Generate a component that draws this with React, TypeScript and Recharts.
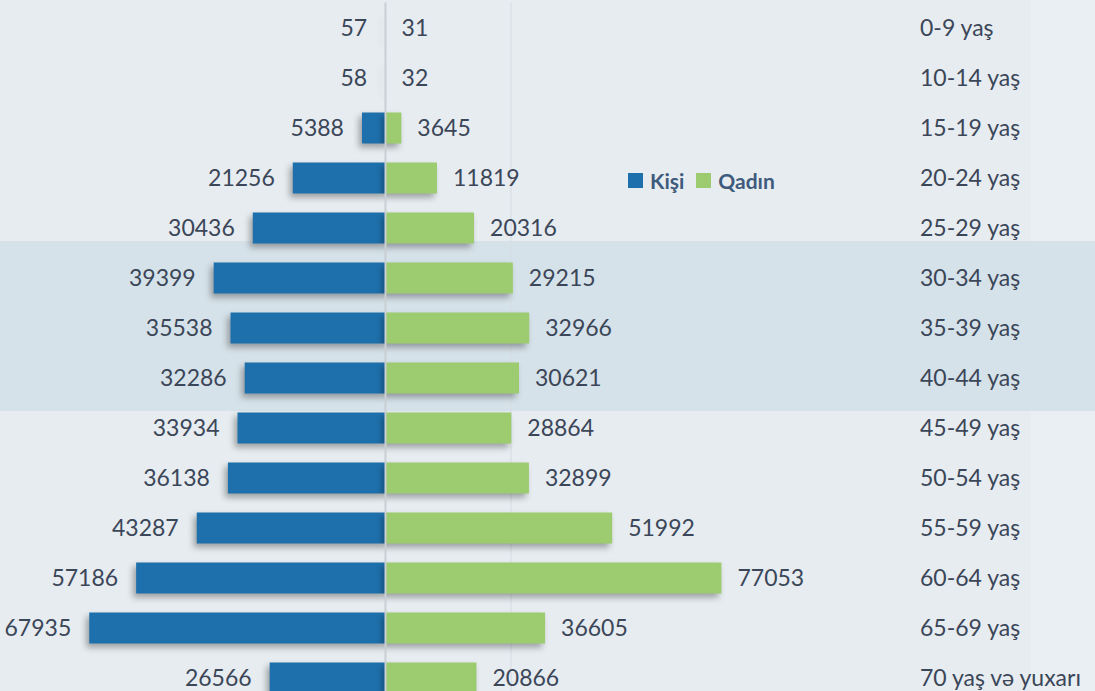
import { Bar, BarChart, CartesianGrid, LabelList, Legend, ReferenceLine, XAxis, YAxis } from 'recharts';

const ageGroups = [
  '0-9 yaş',
  '10-14 yaş',
  '15-19 yaş',
  '20-24 yaş',
  '25-29 yaş',
  '30-34 yaş',
  '35-39 yaş',
  '40-44 yaş',
  '45-49 yaş',
  '50-54 yaş',
  '55-59 yaş',
  '60-64 yaş',
  '65-69 yaş',
  '70 yaş və yuxarı',
];
const male = [57, 58, 5388, 21256, 30436, 39399, 35538, 32286, 33934, 36138, 43287, 57186, 67935, 26566];
const female = [31, 32, 3645, 11819, 20316, 29215, 32966, 30621, 28864, 32899, 51992, 77053, 36605, 20866];
const xDomain = [-88400, 120750];
const gridTicks = [28800];

const chartData = ageGroups.map((age, i) => ({
  age,
  kisi: -male[i],
  qadin: female[i],
}));

const BLUE = '#1e70ac';
const GREEN = '#9dcb6f';
const TEXT = '#3b4658';
const FONT = 'Lato, sans-serif';

// bars with a soft shadow down-left, like the office original
const ShadowBar = (props: any) => {
  let { x, y, width, height, fill } = props;
  if (width < 0) {
    x += width;
    width = -width;
  }
  return (
    <rect
      x={x}
      y={y}
      width={width}
      height={height}
      fill={fill}
      style={{ filter: 'drop-shadow(-3px 4px 3px rgba(0,0,0,0.32))' }}
    />
  );
};

const LegendBox = ({ payload }: any) => (
  <div style={{ display: 'flex', alignItems: 'center', fontFamily: FONT, fontWeight: 700, fontSize: 21, color: '#3e5a7c' }}>
    {(payload || []).map((p: any) => (
      <span key={p.value} style={{ display: 'flex', alignItems: 'center', marginRight: 12 }}>
        <span style={{ width: 15, height: 15, background: p.color, display: 'inline-block', marginRight: 7 }} />
        {p.value}
      </span>
    ))}
  </div>
);

// only the inner gridline, not the plot edges
const gridX = (p: any) => {
  const o = p?.offset;
  if (!o || typeof o.left !== 'number') return [];
  return gridTicks.map((v) => o.left + ((v - xDomain[0]) / (xDomain[1] - xDomain[0])) * o.width);
};

export default function App() {
  return (
    <div style={{ position: 'absolute', left: 0, top: 0, width: 1095, height: 691, overflow: 'hidden', background: '#e6ecf0' }}>
      <div style={{ position: 'absolute', left: 1031, top: 0, width: 64, height: 691, background: '#e9eff2' }} />
      <div style={{ position: 'absolute', left: 0, top: 241, width: 1095, height: 170, background: '#d6e2e9' }} />
      <div style={{ position: 'absolute', left: 0, top: 0 }}>
        <BarChart
          width={1095}
          height={702.5}
          data={chartData}
          layout='vertical'
          stackOffset='sign'
          margin={{ top: 2.5, right: 0, bottom: 0, left: 0 }}
        >
          <CartesianGrid horizontal={false} stroke='#d6dde2' strokeWidth={1} verticalCoordinatesGenerator={gridX} />
          <XAxis type='number' hide domain={xDomain} ticks={gridTicks} allowDataOverflow />
          <YAxis
            type='category'
            dataKey='age'
            orientation='right'
            width={183}
            axisLine={false}
            tickLine={false}
            tickMargin={2}
            tick={{ fontSize: 23, fill: TEXT, fontFamily: FONT }}
            interval={0}
          />
          <Legend
            content={<LegendBox />}
            layout='horizontal'
            verticalAlign='middle'
            align='center'
            wrapperStyle={{ position: 'absolute', left: 628, top: 168, width: 'auto' }}
          />
          <Bar dataKey='kisi' name='Kişi' stackId='a' fill={BLUE} barSize={31} shape={<ShadowBar />} isAnimationActive={false}>
            <LabelList
              dataKey='kisi'
              position='right'
              offset={18}
              formatter={(v: any) => Math.abs(Number(v))}
              style={{ fontSize: 23, fill: TEXT, fontFamily: FONT }}
            />
          </Bar>
          <Bar dataKey='qadin' name='Qadın' stackId='a' fill={GREEN} barSize={31} shape={<ShadowBar />} isAnimationActive={false}>
            <LabelList
              dataKey='qadin'
              position='right'
              offset={16}
              style={{ fontSize: 23, fill: TEXT, fontFamily: FONT }}
            />
          </Bar>
          <ReferenceLine x={0} stroke='#c9cfd3' strokeWidth={2} />
        </BarChart>
      </div>
    </div>
  );
}
